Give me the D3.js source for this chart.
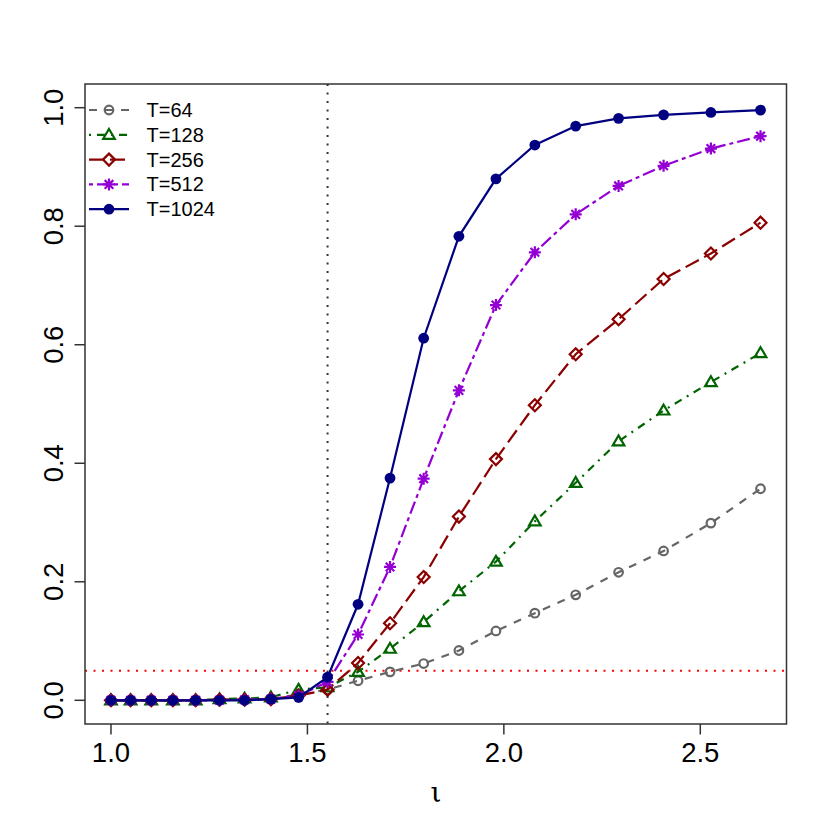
<!DOCTYPE html>
<html><head><meta charset="utf-8">
<script src="https://cdn.jsdelivr.net/npm/d3@7"></script>
<style>body{margin:0;background:#fff}</style>
</head><body>
<svg id="c" width="830" height="830"></svg>
<script>
const xVals = [1.0000,1.0500,1.1025,1.1576,1.2155,1.2763,1.3401,1.4071,1.4775,1.5513,1.6289,1.7103,1.7959,1.8856,1.9799,2.0789,2.1829,2.2920,2.4066,2.5270,2.6533];
const seriesNames = ["T=64","T=128","T=256","T=512","T=1024"];
const s64   = [0,0,0,0,0,0.001,0.001,0.002,0.010,0.018,0.033,0.048,0.062,0.084,0.117,0.147,0.178,0.216,0.252,0.299,0.357];
const s128  = [0,0,0,0,0,0.002,0.003,0.005,0.018,0.022,0.048,0.087,0.132,0.184,0.234,0.302,0.367,0.437,0.489,0.537,0.586];
const s256  = [0,0,0,0,0,0.001,0.001,0.002,0.008,0.018,0.063,0.130,0.208,0.310,0.407,0.498,0.584,0.643,0.711,0.754,0.806];
const s512  = [0,0,0,0,0,0,0.001,0.002,0.008,0.031,0.111,0.225,0.374,0.523,0.667,0.756,0.820,0.868,0.902,0.931,0.952];
const s1024 = [0,0,0,0,0,0,0,0.002,0.005,0.039,0.162,0.375,0.611,0.783,0.880,0.937,0.969,0.982,0.988,0.992,0.996];
const xTicks = [1.0,1.5,2.0,2.5];
const yTicks = [0.0,0.2,0.4,0.6,0.8,1.0];
const vLine = 1.5513, hLine = 0.05;

const styles = [
  {col:"#666666", dash:"8,8", pch:"circle"},
  {col:"#006400", dash:"2,6,8,6", pch:"triangle"},
  {col:"#8B0000", dash:"15,6", pch:"diamond"},
  {col:"#9400D3", dash:"4,4,13,4", pch:"asterisk"},
  {col:"#000080", dash:null, pch:"disc"}
];
const data = [s64,s128,s256,s512,s1024];

const svg = d3.select("#c");
const L=85, R=786.5, T=84, B=724;
const xr = xVals[xVals.length-1]-xVals[0];
const x = d3.scaleLinear().domain([xVals[0]-0.04*xr, xVals[xVals.length-1]+0.04*xr]).range([L,R]);
const y = d3.scaleLinear().domain([-0.04,1.04]).range([B,T]);
const font = "Liberation Sans, Arial, Helvetica, sans-serif";

svg.append("line").attr("x1",x(vLine)).attr("x2",x(vLine)).attr("y1",T).attr("y2",B)
  .attr("stroke","#333").attr("stroke-width",2).attr("stroke-dasharray","2,6.5");
svg.append("line").attr("x1",L).attr("x2",R).attr("y1",y(hLine)).attr("y2",y(hLine))
  .attr("stroke","#ff0000").attr("stroke-width",2).attr("stroke-dasharray","2,6.5");

function drawSym(g, type, cx, cy, col){
  if(type==="circle"){
    g.append("circle").attr("cx",cx).attr("cy",cy).attr("r",4.3).attr("fill","none").attr("stroke",col).attr("stroke-width",2.2);
  } else if(type==="disc"){
    g.append("circle").attr("cx",cx).attr("cy",cy).attr("r",5.4).attr("fill",col);
  } else if(type==="triangle"){
    g.append("path").attr("d",`M${cx},${cy-5.8}L${cx+5.8},${cy+4}L${cx-5.8},${cy+4}Z`).attr("fill","none").attr("stroke",col).attr("stroke-width",2.2);
  } else if(type==="diamond"){
    const h=6;
    g.append("path").attr("d",`M${cx},${cy-h}L${cx+h},${cy}L${cx},${cy+h}L${cx-h},${cy}Z`).attr("fill","none").attr("stroke",col).attr("stroke-width",2.2);
  } else if(type==="asterisk"){
    const h=6, d=4.3;
    g.append("path").attr("d",`M${cx-h},${cy}L${cx+h},${cy}M${cx},${cy-h}L${cx},${cy+h}M${cx-d},${cy-d}L${cx+d},${cy+d}M${cx-d},${cy+d}L${cx+d},${cy-d}`)
      .attr("stroke",col).attr("stroke-width",2.2);
  }
}

const line = d3.line().x((d,i)=>x(xVals[i])).y(d=>y(d));
data.forEach((s,k)=>{
  const st=styles[k];
  const g=svg.append("g");
  g.append("path").attr("d",line(s)).attr("fill","none").attr("stroke",st.col).attr("stroke-width",2.2)
    .attr("stroke-dasharray",st.dash);
  s.forEach((v,i)=>drawSym(g,st.pch,x(xVals[i]),y(v),st.col));
});

svg.append("rect").attr("x",L).attr("y",T).attr("width",R-L).attr("height",B-T)
  .attr("fill","none").attr("stroke","#333").attr("stroke-width",1.5);

xTicks.forEach(t=>{
  svg.append("line").attr("x1",x(t)).attr("x2",x(t)).attr("y1",B).attr("y2",B+10.5).attr("stroke","#333").attr("stroke-width",1.5);
  svg.append("text").attr("x",x(t)).attr("y",762).attr("text-anchor","middle")
    .attr("font-family",font).attr("font-size",27.5).attr("fill","#000").text(d3.format(".1f")(t));
});
yTicks.forEach(t=>{
  svg.append("line").attr("x1",L-10.5).attr("x2",L).attr("y1",y(t)).attr("y2",y(t)).attr("stroke","#333").attr("stroke-width",1.5);
  svg.append("text").attr("transform",`translate(63,${y(t)}) rotate(-90)`).attr("text-anchor","middle")
    .attr("font-family",font).attr("font-size",27.5).attr("fill","#000").text(d3.format(".1f")(t));
});
svg.append("text").attr("x",436).attr("y",802).attr("text-anchor","middle")
  .attr("font-family","DejaVu Serif, serif").attr("font-size",28).attr("fill","#000").text("ι");

seriesNames.forEach((nm,k)=>{
  const st=styles[k];
  const cy=110+k*24.8;
  const g=svg.append("g");
  g.append("line").attr("x1",89).attr("x2",129).attr("y1",cy).attr("y2",cy)
    .attr("stroke",st.col).attr("stroke-width",2.2).attr("stroke-dasharray",st.dash);
  drawSym(g,st.pch,109,cy,st.col);
  g.append("text").attr("x",146.5).attr("y",cy+7).attr("font-family",font).attr("font-size",20).attr("fill","#000").text(nm);
});
</script>
</body></html>
